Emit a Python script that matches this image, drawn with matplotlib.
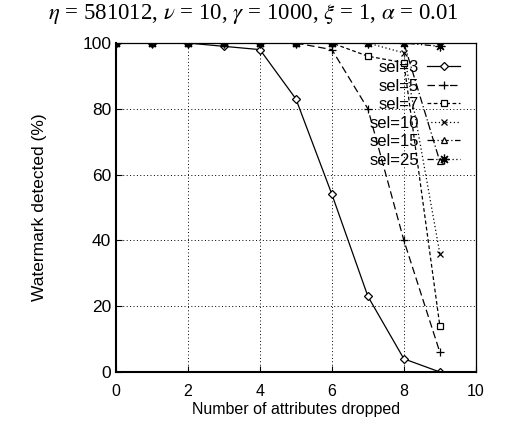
import matplotlib
matplotlib.use("Agg")
import matplotlib.pyplot as plt

# attributes dropped
dropped = [0, 1, 2, 3, 4, 5, 6, 7, 8, 9]

# watermark detected (%) per selection size
sel3 = [100, 100, 100, 99, 98, 83, 54, 23, 4, 0]
sel5 = [100, 100, 100, 100, 100, 100, 98, 80, 40, 6]
sel7 = [100, 100, 100, 100, 100, 100, 100, 96, 94, 14]
sel10 = [100, 100, 100, 100, 100, 100, 100, 100, 97, 36]
sel15 = [100, 100, 100, 100, 100, 100, 100, 100, 100, 64]
sel25 = [100, 100, 100, 100, 100, 100, 100, 100, 100, 99]

labels = ["sel=3", "sel=5", "sel=7", "sel=10", "sel=15", "sel=25"]
x_ticks = [0, 2, 4, 6, 8, 10]
y_ticks = [0, 20, 40, 60, 80, 100]

plt.rcParams["font.family"] = ["Liberation Sans", "DejaVu Sans"]
plt.rcParams["mathtext.fontset"] = "stix"

fig = plt.figure(figsize=(5.1, 4.22), dpi=100)
ax = fig.add_axes([0.2275, 0.1185, 0.7055, 0.7795])

styles = [
    dict(linestyle="-", marker="D", markersize=4, markerfacecolor="white"),
    dict(linestyle=(0, (6, 3)), marker="+", markersize=6),
    dict(linestyle=(0, (3, 2)), marker="s", markersize=5, markerfacecolor="white"),
    dict(linestyle=(0, (1, 2)), marker="x", markersize=5),
    dict(linestyle=(0, (6, 2, 1, 2)), marker="^", markersize=5, markerfacecolor="white"),
    dict(linestyle=(0, (5, 2, 1, 2, 1, 2)), marker=(8, 2, 0), markersize=7),
]
series = [sel3, sel5, sel7, sel10, sel15, sel25]
for vals, lab, st in zip(series, labels, styles):
    ax.plot(dropped, vals, color="black", linewidth=0.9, markeredgewidth=0.9,
            label=lab, **st)

ax.set_xlim(0, 10)
ax.set_ylim(0, 100)
ax.set_xticks(x_ticks)
ax.set_yticks(y_ticks)
ax.tick_params(direction="in", length=4, top=False, right=False)
ax.tick_params(axis="x", labelsize=11.5, pad=9)
ax.tick_params(axis="y", labelsize=12.5)
ax.grid(True, color="black", linestyle=(0, (1, 2.5)), linewidth=0.7)
for side in ["left", "bottom"]:
    ax.spines[side].set_linewidth(1.5)
for side in ["top", "right"]:
    ax.spines[side].set_linewidth(0.9)

ax.set_xlabel("Number of attributes dropped", fontsize=11.5, labelpad=2)
ax.set_ylabel("Watermark detected (%)", fontsize=12.5, labelpad=25)
fig.text(0.497, 1 - 19 / 422.0,
         r"$\eta$ = 581012, $\nu$ = 10, $\gamma$ = 1000, $\xi$ = 1, $\alpha$ = 0.01",
         fontsize=16.5, family="Liberation Serif", ha="center", va="baseline")

ax.legend(loc="upper right", markerfirst=False, frameon=False, fontsize=12,
          handlelength=2.0, handletextpad=0.5, labelspacing=0.21,
          borderaxespad=0.2, bbox_to_anchor=(0.985, 0.978))

fig.savefig("out.png", dpi=100)
